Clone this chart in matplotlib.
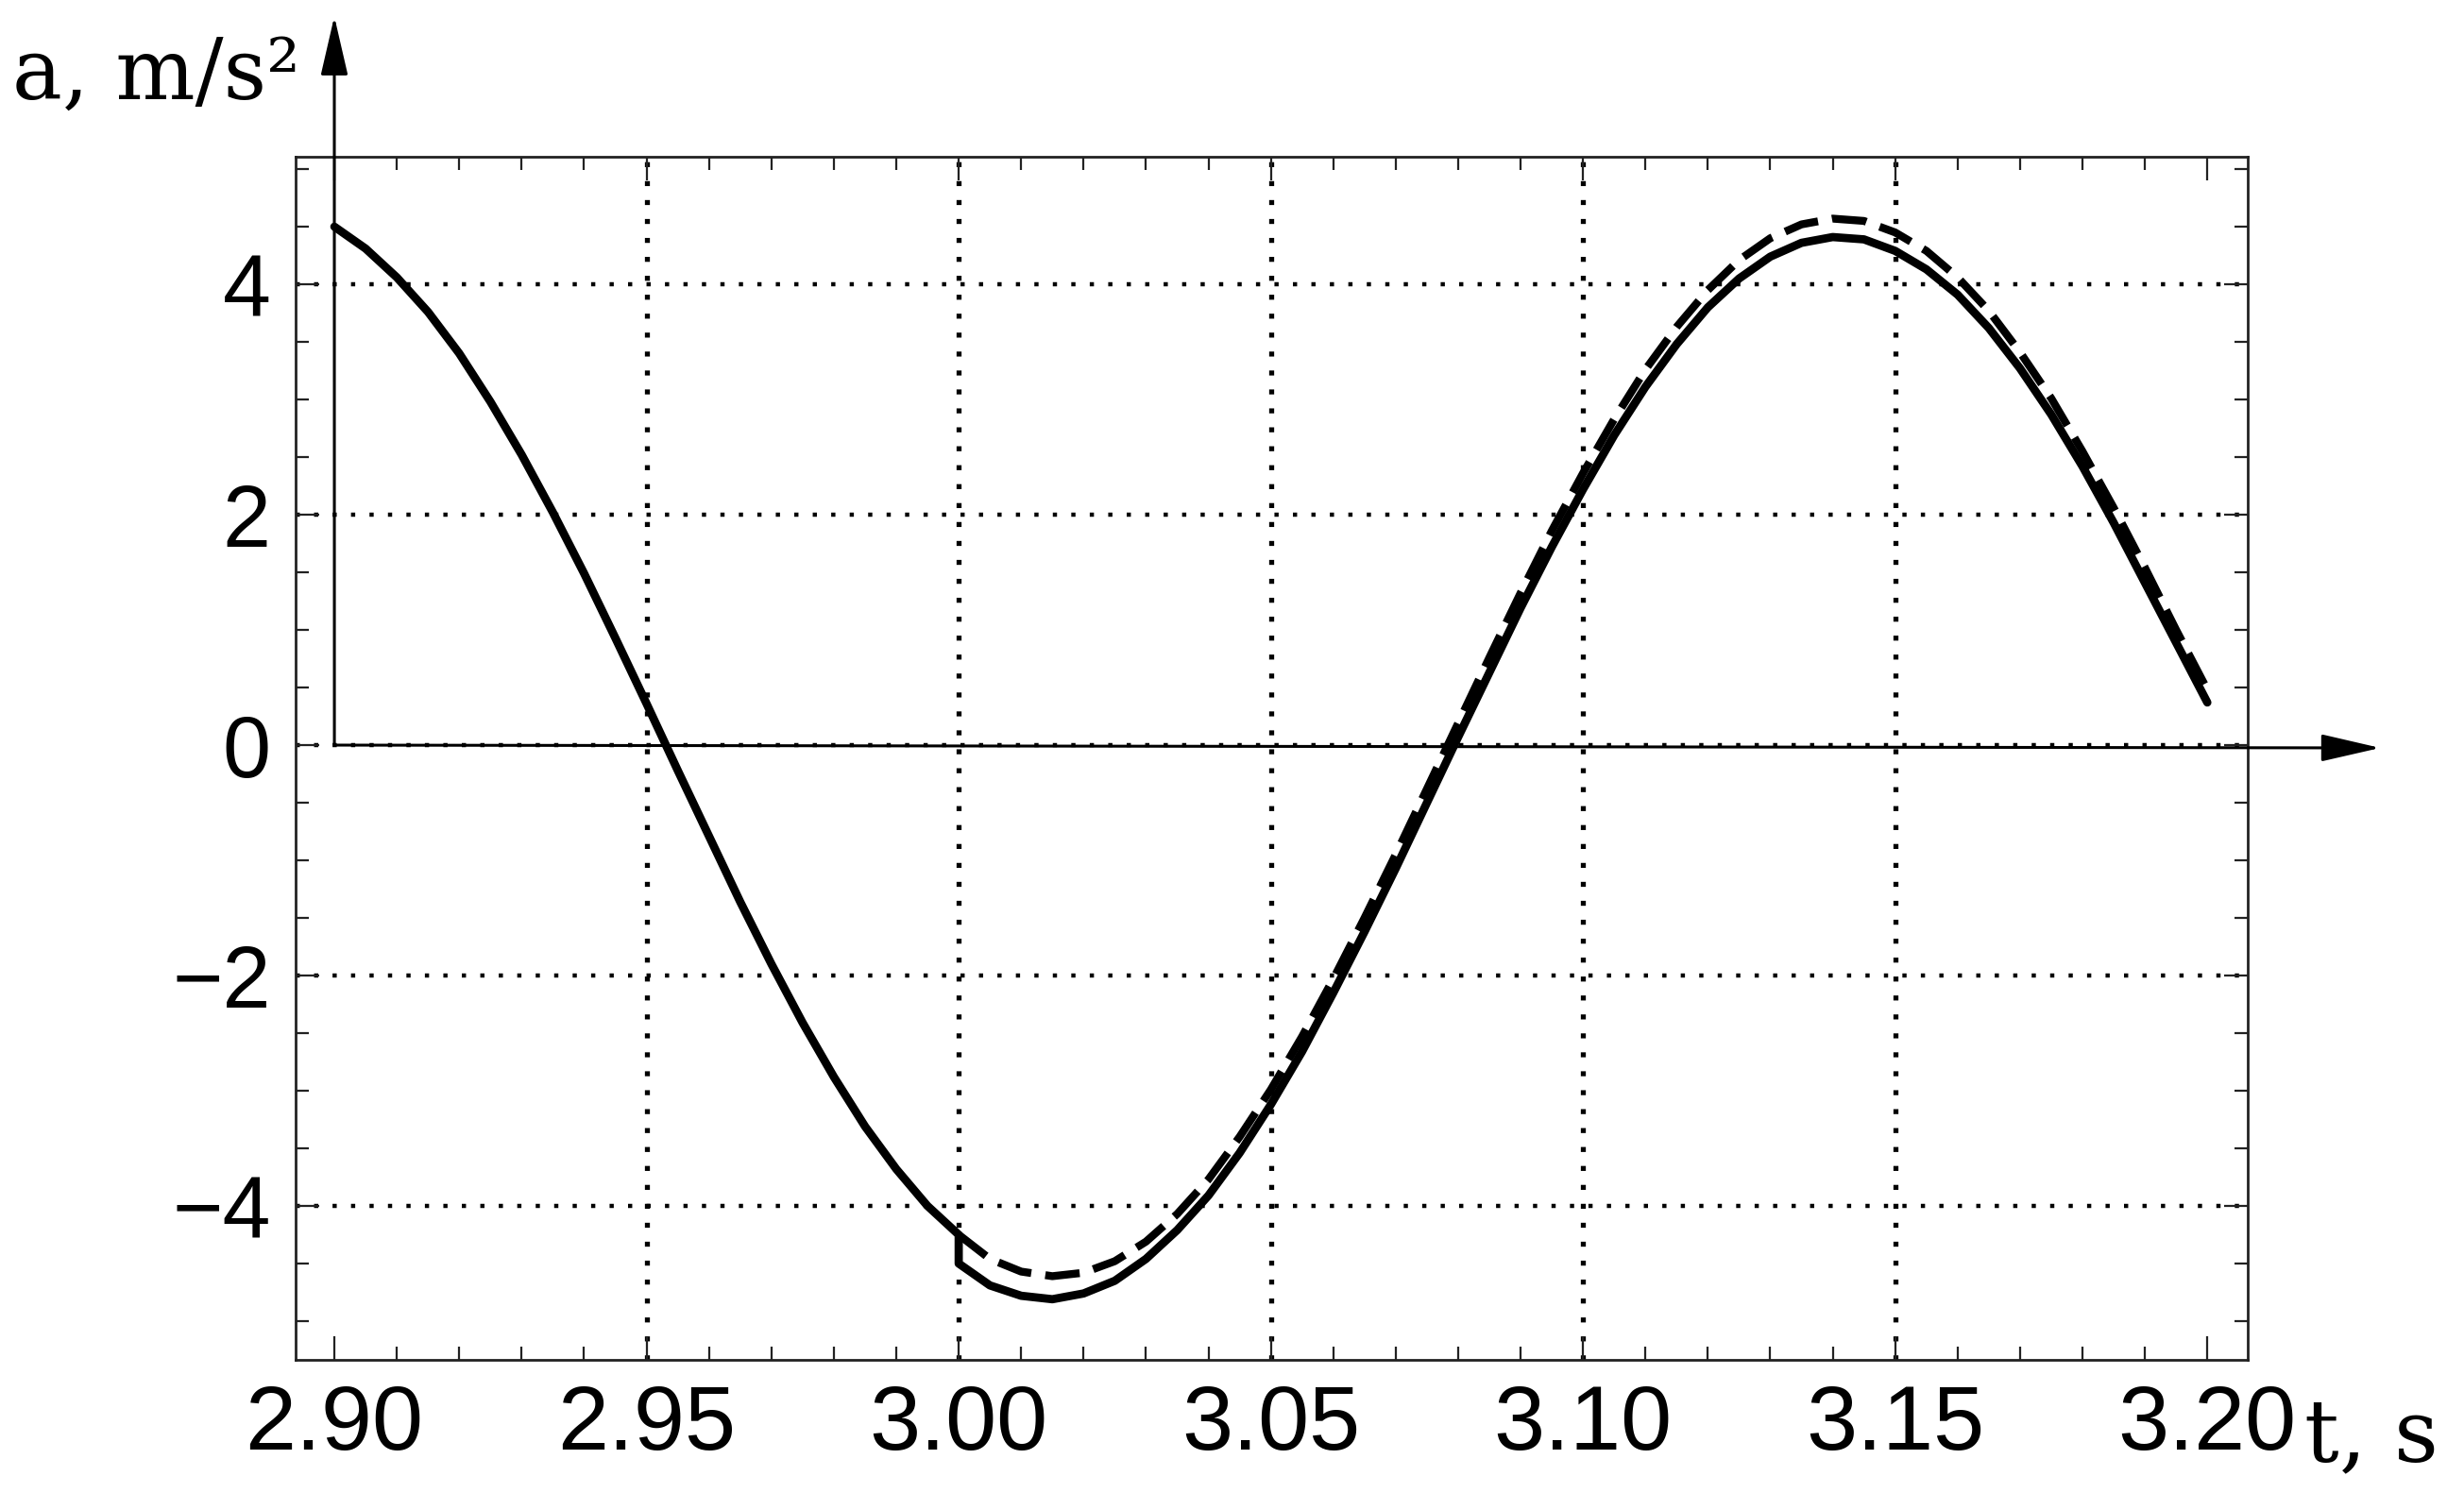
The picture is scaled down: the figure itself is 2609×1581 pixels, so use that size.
import matplotlib
matplotlib.use("Agg")
import matplotlib.pyplot as plt
import numpy as np
from matplotlib.ticker import MultipleLocator, FormatStrFormatter

# values, t in s, a in m/s^2
t_before = [2.900, 2.905, 2.910, 2.915, 2.920, 2.925, 2.930, 2.935, 2.940, 2.945,
            2.950, 2.955, 2.960, 2.965, 2.970, 2.975, 2.980, 2.985, 2.990, 2.995, 3.000]
a_before = [4.50, 4.31, 4.06, 3.76, 3.40, 2.98, 2.52, 2.02, 1.49, 0.93,
            0.36, -0.22, -0.79, -1.36, -1.90, -2.41, -2.88, -3.31, -3.68, -4.00, -4.25]

t_after = [3.000, 3.005, 3.010, 3.015, 3.020, 3.025, 3.030, 3.035, 3.040, 3.045,
           3.050, 3.055, 3.060, 3.065, 3.070, 3.075, 3.080, 3.085, 3.090, 3.095,
           3.100, 3.105, 3.110, 3.115, 3.120, 3.125, 3.130, 3.135, 3.140, 3.145,
           3.150, 3.155, 3.160, 3.165, 3.170, 3.175, 3.180, 3.185, 3.190, 3.195, 3.200]
a_solid = [-4.50, -4.69, -4.78, -4.81, -4.76, -4.65, -4.46, -4.21, -3.91, -3.54,
           -3.12, -2.66, -2.15, -1.62, -1.07, -0.50, 0.07, 0.63, 1.19, 1.72,
           2.22, 2.69, 3.11, 3.48, 3.80, 4.05, 4.24, 4.36, 4.41, 4.39,
           4.29, 4.13, 3.91, 3.62, 3.27, 2.87, 2.42, 1.93, 1.41, 0.89, 0.37]
a_dashed = [-4.25, -4.46, -4.57, -4.61, -4.58, -4.48, -4.31, -4.07, -3.77, -3.40,
            -2.99, -2.53, -2.03, -1.50, -0.95, -0.38, 0.19, 0.76, 1.32, 1.86,
            2.36, 2.83, 3.26, 3.63, 3.95, 4.21, 4.40, 4.52, 4.57, 4.55,
            4.45, 4.29, 4.06, 3.77, 3.41, 3.01, 2.55, 2.06, 1.54, 1.00, 0.48]

x_ticks = [2.90, 2.95, 3.00, 3.05, 3.10, 3.15, 3.20]
y_ticks = [-4, -2, 0, 2, 4]
x_grid = [2.95, 3.00, 3.05, 3.10, 3.15]
y_grid = [-4, -2, 0, 2, 4]

fig = plt.figure(figsize=(26.09, 15.81), dpi=100)
ax = fig.add_axes([0.1200, 0.0892, 0.7923, 0.8058])
ax.set_xlim(2.8938, 3.2065)
ax.set_ylim(-5.336, 5.107)

# dotted grid
for g in x_grid:
    ax.axvline(g, color="black", lw=3.8, linestyle=(0, (1, 2.8)), zorder=1)
for g in y_grid:
    ax.axhline(g, color="black", lw=3.2, linestyle=(0, (1, 3.4)), zorder=1)

# curves
t_solid = t_before + t_after
a_solid_all = a_before + a_solid
ax.plot(t_after, a_dashed, color="black", lw=6.0, linestyle=(0, (4.4, 1.8)), zorder=3)
ax.plot(t_solid, a_solid_all, color="black", lw=6.3, zorder=4,
        solid_joinstyle="round", solid_capstyle="round")

# axes with arrows from the origin (2.90, 0)
arrow = dict(arrowstyle="-|>,head_length=1.3,head_width=0.3", lw=2.2, color="black",
             shrinkA=0, shrinkB=0, mutation_scale=30)
ax.annotate("", xy=(0.966, 1 - 792 / 1581), xycoords="figure fraction",
            xytext=(2.90, 0), textcoords="data", arrowprops=arrow, annotation_clip=False)
ax.annotate("", xy=(354 / 2609, 0.989), xycoords="figure fraction",
            xytext=(2.90, 0), textcoords="data", arrowprops=arrow, annotation_clip=False)

# frame, ticks
for s in ax.spines.values():
    s.set_linewidth(2.0)
    s.set_color("#222222")
ax.set_xticks(x_ticks)
ax.set_yticks(y_ticks)
ax.xaxis.set_minor_locator(MultipleLocator(0.01))
ax.yaxis.set_minor_locator(MultipleLocator(0.5))
ax.xaxis.set_major_formatter(FormatStrFormatter("%.2f"))
ax.tick_params(which="both", direction="in", top=True, right=True, width=1.6, color="#222222")
ax.tick_params(which="major", length=18)
ax.tick_params(which="minor", length=10)
ax.tick_params(axis="x", labelsize=70, pad=18)
ax.tick_params(axis="y", labelsize=66, pad=19)
for lab in ax.get_xticklabels() + ax.get_yticklabels():
    lab.set_family("Liberation Sans")

fig.text(0.005, 1 - 105 / 1581, "a, m/s²", family="DejaVu Serif", fontsize=64,
         ha="left", va="baseline")
fig.text(2440 / 2609, 1 - 1547 / 1581, "t, s", family="DejaVu Serif", fontsize=66,
         ha="left", va="baseline")

fig.savefig("out.png", dpi=100, facecolor="white")
